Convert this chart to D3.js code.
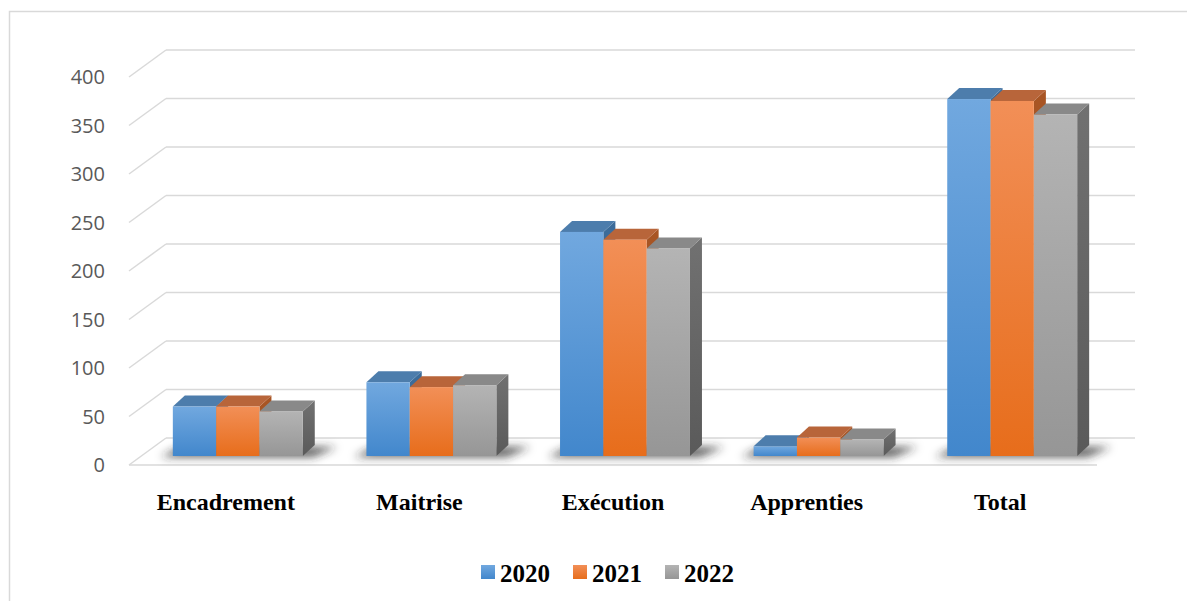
<!DOCTYPE html>
<html>
<head>
<meta charset="utf-8">
<script src="https://cdn.jsdelivr.net/npm/d3@7"></script>
<style>
  body { margin: 0; background: #fff; }
  svg { display: block; }
</style>
</head>
<body>
<div id="main"></div>
<script>
// chart data
const categories = ["Encadrement", "Maitrise", "Exécution", "Apprenties", "Total"];
const years = ["2020", "2021", "2022"];
const values2020 = [51, 76, 231, 10, 368];
const values2021 = [51, 71, 223, 19, 366];
const values2022 = [46, 73, 214, 17, 352];
const yTicks = [0, 50, 100, 150, 200, 250, 300, 350, 400];

const seriesValues = [values2020, values2021, values2022];

const W = 1187, H = 601;

// floor / wall geometry (oblique 3D look)
const floorLeft = 129, floorRight = 1097, floorFront = 465;
const depthX = 37, depthY = -27;      // front plane -> back wall
const barShiftX = 12, barShiftY = -9; // front plane -> bar front face
const barDX = 12, barDY = -11;        // bar top/side depth

const svg = d3.select("#main")
    .append("svg")
    .attr("width", W)
    .attr("height", H)

// palette: front gradient top/bottom, top face, side face
const palette = [
    { top: "#71a8df", bottom: "#4287cc", cap: "#4d7dac", side: "#3c6c9a" },
    { top: "#f28f57", bottom: "#e76d1b", cap: "#b8653a", side: "#a85524" },
    { top: "#b4b4b4", bottom: "#969696", cap: "#898989", side: "#666666" }
];

const defs = svg.append("defs");
palette.forEach((p, i) => {
    const g = defs.append("linearGradient")
        .attr("id", "front" + i)
        .attr("x1", 0).attr("y1", 0).attr("x2", 0).attr("y2", 1);
    g.append("stop").attr("offset", "0%").attr("stop-color", p.top);
    g.append("stop").attr("offset", "100%").attr("stop-color", p.bottom);
});
const sideGrad = defs.append("linearGradient")
    .attr("id", "sideGray")
    .attr("x1", 0).attr("y1", 0).attr("x2", 0).attr("y2", 1);
sideGrad.append("stop").attr("offset", "0%").attr("stop-color", "#717171");
sideGrad.append("stop").attr("offset", "100%").attr("stop-color", "#5a5a5a");

defs.append("filter").attr("id", "blur")
    .attr("x", "-20%").attr("y", "-200%").attr("width", "140%").attr("height", "500%")
    .append("feGaussianBlur").attr("stdDeviation", 4);

// outer frame
svg.append("rect")
    .attr("x", 9.5).attr("y", 11.5)
    .attr("width", W + 20).attr("height", H + 20)
    .attr("fill", "none")
    .attr("stroke", "#d9d9d9")
    .attr("stroke-width", 1.5);

// scales
const y = d3.scaleLinear()
    .domain([0, 400])
    .range([floorFront, floorFront - 388]);

const x = d3.scaleBand()
    .domain(categories)
    .range([floorLeft, floorRight])
    .padding(0);

const xSub = d3.scaleBand()
    .domain(years)
    .range([0, x.bandwidth()])
    .paddingInner(0)
    .paddingOuter(0.735);

// gridlines: side wall diagonal + back wall horizontal
const grid = svg.append("g").attr("class", "grid");
grid.selectAll(".gridBack")
    .data(yTicks)
    .join("line")
    .attr("class", "gridBack")
    .attr("x1", floorLeft + depthX)
    .attr("x2", floorRight + depthX + 1)
    .attr("y1", d => y(d) + depthY)
    .attr("y2", d => y(d) + depthY)
    .attr("stroke", "#d9d9d9")
    .attr("stroke-width", 1.5);

grid.selectAll(".gridSide")
    .data(yTicks)
    .join("line")
    .attr("class", "gridSide")
    .attr("x1", floorLeft)
    .attr("x2", floorLeft + depthX)
    .attr("y1", d => y(d))
    .attr("y2", d => y(d) + depthY)
    .attr("stroke", "#d9d9d9")
    .attr("stroke-width", 1.5);

// floor front edge
grid.append("line")
    .attr("x1", floorLeft).attr("x2", floorRight)
    .attr("y1", y(0)).attr("y2", y(0))
    .attr("stroke", "#d9d9d9")
    .attr("stroke-width", 1.5);

// y axis labels
svg.append("g").selectAll("text")
    .data(yTicks)
    .join("text")
    .attr("x", 105)
    .attr("y", d => y(d))
    .attr("dy", "0.36em")
    .attr("text-anchor", "end")
    .style("font-family", "'Open Sans', sans-serif")
    .style("font-size", "20px")
    .style("fill", "#595959")
    .text(d => d);

// shadows on the floor under each group
const baseY = y(0) + barShiftY;
const shadowG = svg.append("g").attr("filter", "url(#blur)");
categories.forEach(c => {
    const x0 = x(c) + barShiftX + xSub(years[0]);
    const x1 = x(c) + barShiftX + xSub(years[2]) + xSub.bandwidth();
    shadowG.append("path")
        .attr("d", `M${x0 - 12},${baseY + 1} L${x1 + 10},${baseY + 1} L${x1 + barDX + 22},${baseY + barDY + 2} L${x0 + barDX - 4},${baseY + barDY + 2} Z`)
        .attr("fill", "#2a2a2a")
        .attr("opacity", 0.75);
});

// bars, drawn left to right so that later bars cover earlier side faces
const bars = svg.append("g").attr("class", "bars");
categories.forEach((c, ci) => {
    years.forEach((yr, si) => {
        const v = seriesValues[si][ci];
        const bx = x(c) + barShiftX + xSub(yr);
        const bw = xSub.bandwidth();
        const top = y(v) + barShiftY;
        const p = palette[si];
        const g = bars.append("g").attr("class", "bar3d");
        // side face
        g.append("path")
            .attr("d", `M${bx + bw},${top} L${bx + bw + barDX},${top + barDY} L${bx + bw + barDX},${baseY + barDY} L${bx + bw},${baseY} Z`)
            .attr("fill", si === 2 ? "url(#sideGray)" : p.side);
        // top face
        g.append("path")
            .attr("d", `M${bx},${top} L${bx + bw},${top} L${bx + bw + barDX},${top + barDY} L${bx + barDX},${top + barDY} Z`)
            .attr("fill", p.cap);
        // front face
        g.append("rect")
            .attr("x", bx)
            .attr("y", top)
            .attr("width", bw)
            .attr("height", baseY - top)
            .attr("fill", `url(#front${si})`);
    });
});

// category labels, centred on the front edge of the floor
svg.append("g").selectAll("text")
    .data(categories)
    .join("text")
    .attr("x", d => x(d) + x.bandwidth() / 2)
    .attr("y", 510)
    .attr("text-anchor", "middle")
    .style("font-family", "'Liberation Serif', 'Times New Roman', serif")
    .style("font-weight", "bold")
    .style("font-size", "24px")
    .style("fill", "#000")
    .text(d => d);

// legend
const legendX = [481, 573, 665];
const legend = svg.append("g").attr("class", "legend");
years.forEach((yr, i) => {
    legend.append("rect")
        .attr("x", legendX[i])
        .attr("y", 565)
        .attr("width", 14)
        .attr("height", 14)
        .attr("fill", `url(#front${i})`);
    legend.append("text")
        .attr("x", legendX[i] + 19)
        .attr("y", 582)
        .style("font-family", "'Liberation Serif', 'Times New Roman', serif")
        .style("font-weight", "bold")
        .style("font-size", "25px")
        .style("fill", "#000")
        .text(yr);
});
</script>
</body>
</html>
